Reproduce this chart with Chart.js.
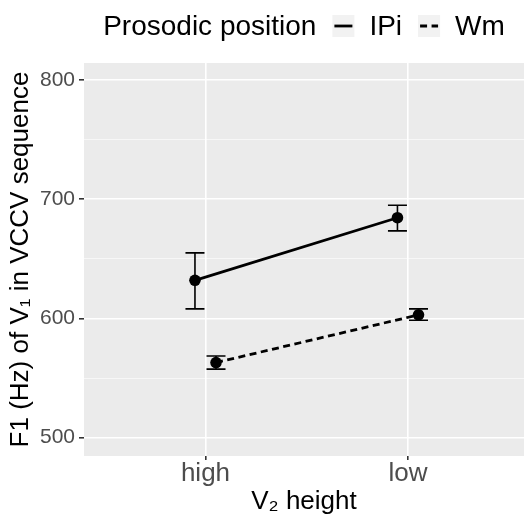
<!DOCTYPE html>
<html>
<head>
<meta charset="utf-8">
<script src="https://cdn.jsdelivr.net/npm/chart.js@4.4.1/dist/chart.umd.min.js"></script>
<style>
  html, body { margin: 0; padding: 0; background: #fff; }
  #wrap { width: 524px; height: 515px; }
</style>
</head>
<body>
<div id="wrap"><canvas id="f1Chart"></canvas></div>
<script>
// F1 of V1 by V2 height and prosodic position

const categories = ['high', 'low'];
const seriesNames = ['IPi', 'Wm'];
const ipiMean  = [632, 684.5];
const ipiLower = [608, 673.5];
const ipiUpper = [655, 695];
const wmMean   = [563, 603];
const wmLower  = [557.5, 598.5];
const wmUpper  = [568.5, 608];
const yTicks = [500, 550, 600, 650, 700, 750, 800];

const FONT = "'Liberation Sans', Arial, Helvetica, sans-serif";
const DODGE = 0.052;

function toPoints(means, shift) {
  return means.map((v, i) => ({ x: i + 1 + shift, y: v }));
}

// grey panel behind the grid
const panelBg = {
  id: 'panelBg',
  beforeDraw(chart) {
    const { ctx, chartArea: a } = chart;
    ctx.save();
    ctx.fillStyle = '#EBEBEB';
    ctx.fillRect(a.left, a.top, a.right - a.left, a.bottom - a.top);
    ctx.restore();
  }
};

// error bars with caps
const errorBars = {
  id: 'errorBars',
  beforeDatasetsDraw(chart) {
    const { ctx } = chart;
    const xs = chart.scales.x, ys = chart.scales.y;
    ctx.save();
    ctx.strokeStyle = '#000';
    ctx.lineWidth = 1.6;
    chart.data.datasets.forEach(ds => {
      ds.data.forEach((p, i) => {
        const px = xs.getPixelForValue(p.x);
        const lo = ys.getPixelForValue(ds.lower[i]);
        const hi = ys.getPixelForValue(ds.upper[i]);
        const w = 9.5;
        ctx.beginPath();
        ctx.moveTo(px, lo); ctx.lineTo(px, hi);
        ctx.moveTo(px - w, lo); ctx.lineTo(px + w, lo);
        ctx.moveTo(px - w, hi); ctx.lineTo(px + w, hi);
        ctx.stroke();
      });
    });
    ctx.restore();
  }
};

// ggplot style legend on top
const topLegend = {
  id: 'topLegend',
  afterDraw(chart) {
    const { ctx, chartArea: a } = chart;
    ctx.save();
    ctx.font = '28px ' + FONT;
    ctx.textBaseline = 'middle';
    ctx.fillStyle = '#000';
    const key = 22, gapKey = 16, gapItem = 15;
    const title = 'Prosodic position';
    let total = ctx.measureText(title).width;
    chart.data.datasets.forEach(ds => {
      total += gapKey + key + gapItem + ctx.measureText(ds.label).width;
    });
    let x = (a.left + a.right) / 2 - total / 2;
    const cy = 26;
    ctx.fillText(title, x, cy + 1);
    x += ctx.measureText(title).width + gapKey;
    chart.data.datasets.forEach(ds => {
      ctx.fillStyle = '#F2F2F2';
      ctx.fillRect(x, cy - key / 2, key, key);
      ctx.strokeStyle = '#000';
      ctx.lineWidth = 2.8;
      ctx.setLineDash(ds.borderDash || []);
      ctx.beginPath();
      ctx.moveTo(x + 2, cy); ctx.lineTo(x + key - 2, cy);
      ctx.stroke();
      ctx.setLineDash([]);
      x += key + gapItem;
      ctx.fillStyle = '#000';
      ctx.fillText(ds.label, x, cy + 1);
      x += ctx.measureText(ds.label).width + gapKey;
    });
    ctx.restore();
  }
};

const ctx = document.getElementById('f1Chart').getContext('2d');
new Chart(ctx, {
  type: 'line',
  data: {
    datasets: [
      {
        label: seriesNames[0],
        data: toPoints(ipiMean, -DODGE),
        lower: ipiLower,
        upper: ipiUpper,
        borderColor: '#000',
        backgroundColor: '#000',
        borderWidth: 2.8,
        pointRadius: 5.8,
        pointHoverRadius: 5.8,
        pointBorderWidth: 0
      },
      {
        label: seriesNames[1],
        data: toPoints(wmMean, DODGE),
        lower: wmLower,
        upper: wmUpper,
        borderColor: '#000',
        backgroundColor: '#000',
        borderWidth: 2.8,
        borderDash: [7, 4.5],
        pointRadius: 5.8,
        pointHoverRadius: 5.8,
        pointBorderWidth: 0
      }
    ]
  },
  options: {
    responsive: true,
    maintainAspectRatio: false,
    animation: false,
    layout: { autoPadding: false, padding: { top: 63, right: 0, bottom: 0, left: 0 } },
    plugins: {
      legend: { display: false },
      tooltip: { enabled: false }
    },
    scales: {
      x: {
        type: 'linear',
        min: 0.4,
        max: 2.573,
        afterBuildTicks: s => { s.ticks = categories.map((c, i) => ({ value: i + 1 })); },
        afterFit: s => { s.height = 59; s.paddingLeft = 0; s.paddingRight = 0; },
        ticks: {
          callback: v => categories[v - 1],
          font: { family: FONT, size: 26, lineHeight: 1 },
          color: '#4D4D4D',
          padding: 1,
          maxRotation: 0
        },
        grid: { color: '#FFFFFF', lineWidth: 1.6, tickColor: '#333333', tickLength: 4 },
        border: { display: false },
        title: {
          display: true,
          text: 'V₂ height',
          font: { family: FONT, size: 26, lineHeight: 1 },
          color: '#000',
          padding: { top: 0, bottom: 0 }
        }
      },
      y: {
        min: 484.6,
        max: 814.3,
        afterBuildTicks: s => { s.ticks = yTicks.map(v => ({ value: v })); },
        afterFit: s => { s.width = 84; s.paddingTop = 0; s.paddingBottom = 0; },
        ticks: {
          callback: v => (v % 100 === 0 ? v : ''),
          font: { family: FONT, size: 21 },
          color: '#4D4D4D',
          padding: 4
        },
        grid: {
          color: c => (c.tick && c.tick.value % 100 === 0 ? '#FFFFFF' : 'rgba(255,255,255,0.75)'),
          lineWidth: c => (c.tick && c.tick.value % 100 === 0 ? 1.6 : 0.8),
          tickColor: c => (c.tick && c.tick.value % 100 === 0 ? '#333333' : 'rgba(0,0,0,0)'),
          tickLength: 5
        },
        border: { display: false },
        title: {
          display: true,
          text: 'F1 (Hz) of V₁ in VCCV sequence',
          font: { family: FONT, size: 26, lineHeight: 1 },
          color: '#000',
          padding: { top: 8, bottom: 0 }
        }
      }
    }
  },
  plugins: [panelBg, errorBars, topLegend]
});
</script>
</body>
</html>
